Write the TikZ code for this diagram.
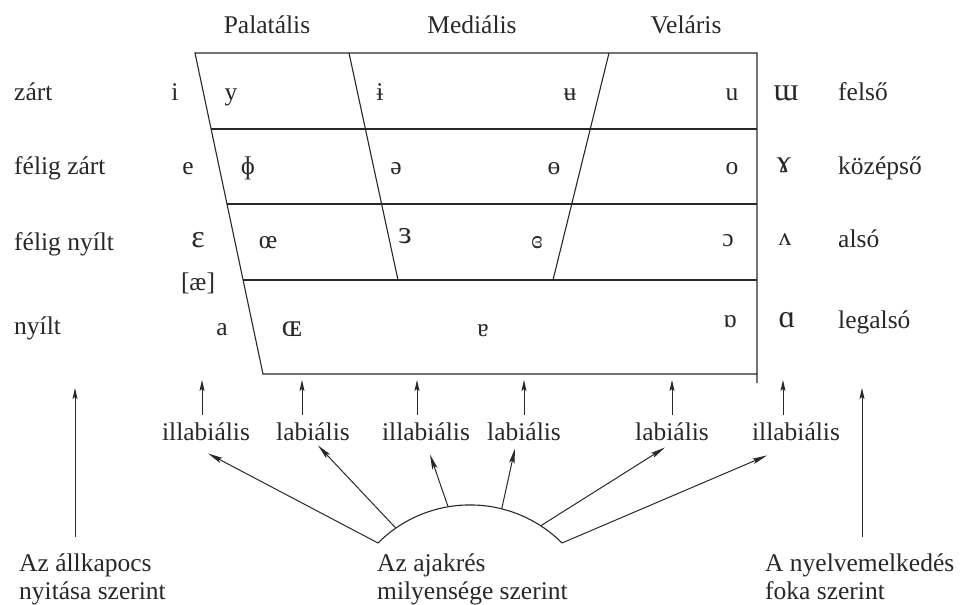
\documentclass[tikz,border=0pt]{standalone}
\usepackage{fontspec}
\setmainfont{Liberation Serif}
\usepackage{xcolor}
\definecolor{ink}{RGB}{40,40,40}
\usetikzlibrary{arrows.meta,calc}

\begin{document}
\begin{tikzpicture}[
  x=1pt, y=1pt,
  txt/.style={anchor=base, inner sep=2pt, font=\fontsize{25.5}{28}\selectfont, text=ink},
  lft/.style={txt, anchor=base west},
  big/.style={txt, font=\fontsize{32}{34}\selectfont},
  grid/.style={draw=ink, line width=1.1pt},
  arrow/.style={-{Stealth[length=11pt,width=5pt,inset=2pt]}, line width=1pt, draw=ink},
  fan/.style={arrow, -{Stealth[length=15pt,width=5.5pt,inset=3pt]}}
]
\useasboundingbox (0,0) rectangle (962,-605);

% chart corners
\coordinate (l0) at (195,-53);
\coordinate (l1) at (211,-129);
\coordinate (l2) at (227,-204);
\coordinate (l3) at (243,-280);
\coordinate (l4) at (263,-374);
\coordinate (r0) at (757,-53);
\coordinate (r1) at (757,-129);
\coordinate (r2) at (757,-204);
\coordinate (r3) at (757,-280);
\coordinate (r4) at (757,-374);
\coordinate (r5) at (757,-383);
\coordinate (m0) at (349,-53);
\coordinate (m3) at (398,-280);
\coordinate (n0) at (609,-53);
\coordinate (n3) at (553,-280);

\draw[grid] (r5) -- (r0) -- (l0) -- (l4) -- (r4);
\draw[grid] (l1) -- (r1);
\draw[grid] (l2) -- (r2);
\draw[grid] (l3) -- (r3);
\draw[grid] (m0) -- (m3);
\draw[grid] (n0) -- (n3);

% column heads
\node[txt] (pal) at (267,-33) {Palatális};
\node[txt] (med) at (472,-33) {Mediális};
\node[txt] (vel) at (686,-33) {Veláris};

% row labels
\node[lft] (zart) at (12,-100) {zárt};
\node[lft] (fzart) at (12,-174) {félig zárt};
\node[lft] (fnyilt) at (12,-250) {félig nyílt};
\node[lft] (nyilt) at (12,-334) {nyílt};
\node[lft] (felso) at (836,-100) {felső};
\node[lft] (kozep) at (836,-174) {középső};
\node[lft] (also) at (836,-247) {alsó};
\node[lft] (legal) at (836,-328) {legalsó};

% vowels
\node[txt] (vi) at (175,-100) {i};
\node[txt] (ve) at (188,-174) {e};
\node[big] (veps) at (198,-247) {ɛ};
\node[txt] (vae) at (198,-290) {[æ]};
\node[txt] (va) at (222,-335) {a};
\node[txt] (vy) at (231,-100) {y};
\node[txt] (vphi) at (248,-174) {ɸ};
\node[txt] (voe) at (268,-248) {œ};
\node[big] (vOE) at (292,-336) {ɶ};
\node[txt] (vbari) at (380,-100) {ɨ};
\node[txt] (vbaru) at (570,-100) {ʉ};
\node[txt] (vu) at (732,-100) {u};
\node[txt] (vschwa) at (396,-174) {ə};
\node[txt] (vbaro) at (554,-174) {ɵ};
\node[txt] (vo) at (732,-174) {o};
\node[big] (vreps) at (405,-243) {ɜ};
\node[txt] (vcreps) at (537,-248) {ɞ};
\node[txt] (vopo) at (728,-246) {ɔ};
\node[txt] (vtura) at (483,-336) {ɐ};
\node[txt] (vtalpha) at (730,-327) {ɒ};
\node[big] (vtm) at (786,-100) {ɯ};
\node[big] (vram) at (784,-172) {ɤ};
\node[txt] (vturv) at (785,-245) {ʌ};
\node[big] (valpha) at (787,-327) {ɑ};

% lip rounding labels
\node[txt] (il1) at (206,-440) {illabiális};
\node[txt] (lab2) at (313,-440) {labiális};
\node[txt] (il3) at (426,-440) {illabiális};
\node[txt] (lab4) at (524,-440) {labiális};
\node[txt] (lab5) at (672,-440) {labiális};
\node[txt] (il6) at (796,-440) {illabiális};

\coordinate (t1) at (202,-380);
\coordinate (t2) at (302,-380);
\coordinate (t3) at (417,-380);
\coordinate (t4) at (524,-380);
\coordinate (t5) at (672,-380);
\coordinate (t6) at (783,-380);
\draw[arrow, shorten <=5pt] (il1.north -| t1) -- (t1);
\draw[arrow, shorten <=5pt] (lab2.north -| t2) -- (t2);
\draw[arrow, shorten <=5pt] (il3.north -| t3) -- (t3);
\draw[arrow, shorten <=5pt] (lab4.north -| t4) -- (t4);
\draw[arrow, shorten <=5pt] (lab5.north -| t5) -- (t5);
\draw[arrow, shorten <=5pt] (il6.north -| t6) -- (t6);

% bottom captions
\node[lft, align=left] (allk) at (17,-599) {Az állkapocs\\nyitása szerint};
\node[lft, align=left] (ajak) at (375,-599) {Az ajakrés\\milyensége szerint};
\node[lft, align=left] (nyelv) at (763,-599) {A nyelvemelkedés\\foka szerint};

\coordinate (jaw) at (75,-388);
\coordinate (tongue) at (862,-388);
\draw[arrow, shorten <=14pt] (allk.north -| jaw) -- (jaw);
\draw[arrow, shorten <=14pt] (nyelv.north -| tongue) -- (tongue);

% lips arc and fan
\coordinate (a1) at (378,-543);
\coordinate (a6) at (562,-543);
\draw[grid] (a1) to[bend left=45]
  coordinate[pos=0.11] (a2) coordinate[pos=0.39] (a3)
  coordinate[pos=0.66] (a4) coordinate[pos=0.87] (a5) (a6);

\draw[fan] (a1) -- ([shift={(2,-11)}]il1.south);
\draw[fan] (a2) -- ([shift={(5,-3)}]lab2.south);
\draw[fan] (a3) -- ([shift={(4,-12)}]il3.south);
\draw[fan] (a4) -- ([shift={(-9,-6)}]lab4.south);
\draw[fan] (a5) -- ([shift={(-7,-5)}]lab5.south);
\draw[fan] (a6) -- ([shift={(-29,-13)}]il6.south);
\end{tikzpicture}
\end{document}
